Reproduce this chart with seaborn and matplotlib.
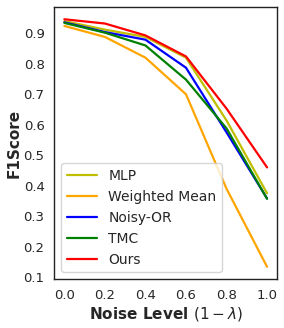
import numpy as np
import pandas as pd
import matplotlib
matplotlib.use("Agg")
import matplotlib.pyplot as plt
import seaborn as sns

noise = [0.0, 0.2, 0.4, 0.6, 0.8, 1.0]
mlp = [0.940, 0.912, 0.888, 0.820, 0.614, 0.375]
weighted_mean = [0.924, 0.888, 0.820, 0.700, 0.390, 0.134]
noisy_or = [0.936, 0.904, 0.879, 0.787, 0.575, 0.358]
tmc = [0.934, 0.902, 0.860, 0.748, 0.588, 0.357]
ours = [0.946, 0.932, 0.893, 0.824, 0.653, 0.460]

methods = ["MLP", "Weighted Mean", "Noisy-OR", "TMC", "Ours"]
colors = ["y", "orange", "b", "g", "r"]

df = pd.DataFrame({
    "noise": noise * 5,
    "f1": mlp + weighted_mean + noisy_or + tmc + ours,
    "method": [m for m in methods for _ in noise],
})

sns.set_style("white")
fig, ax = plt.subplots(figsize=(2.84, 3.28), dpi=100)
sns.lineplot(data=df, x="noise", y="f1", hue="method", hue_order=methods,
             palette=colors, linewidth=1.6, ax=ax)

for s in ax.spines.values():
    s.set_edgecolor("#222222")
    s.set_linewidth(1.0)

ax.set_xticks([0.0, 0.2, 0.4, 0.6, 0.8, 1.0])
ax.set_yticks([0.1, 0.2, 0.3, 0.4, 0.5, 0.6, 0.7, 0.8, 0.9])
ax.tick_params(labelsize=9.5)
ax.set_xlabel(r"Noise Level $(1-\lambda)$", fontsize=11, fontweight="bold", labelpad=2)
ax.set_ylabel("F1Score", fontsize=11, fontweight="bold", labelpad=1.5)
ax.legend(loc="lower left", fontsize=10, handlelength=2.2)

fig.subplots_adjust(left=0.191, right=0.976, top=0.979, bottom=0.149)
fig.savefig("out.png", dpi=100)
